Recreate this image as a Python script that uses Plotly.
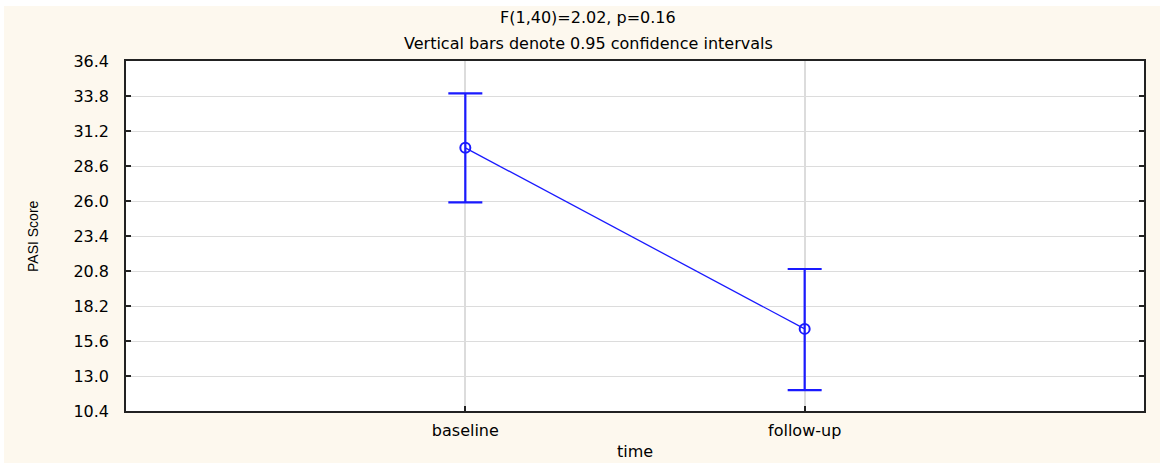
import plotly.graph_objects as go

# Data
categories = ["baseline", "follow-up"]
means = [29.95, 16.50]
ci_upper = [34.00, 20.95]
ci_lower = [25.90, 11.95]
y_ticks = [10.4, 13.0, 15.6, 18.2, 20.8, 23.4, 26.0, 28.6, 31.2, 33.8, 36.4]
title_lines = ["F(1,40)=2.02, p=0.16", "Vertical bars denote 0.95 confidence intervals"]

err_plus = [u - m for u, m in zip(ci_upper, means)]
err_minus = [m - l for m, l in zip(means, ci_lower)]

BLUE = "#1a1aff"
CREAM = "#fdf8ee"
FONT = "DejaVu Sans"
TXT = "#000000"

fig = go.Figure()
fig.add_trace(go.Scatter(
    x=list(range(len(categories))),
    y=means,
    mode="lines+markers",
    line=dict(color=BLUE, width=1.3),
    marker=dict(symbol="circle-open", size=10, color=BLUE, line=dict(width=2, color=BLUE)),
    error_y=dict(type="data", symmetric=False, array=err_plus, arrayminus=err_minus,
                 color=BLUE, thickness=2.2, width=17),
    showlegend=False,
    cliponaxis=False,
))

L, R, T, B = 126, 16, 61, 52
W, H = 1160, 463
pw, ph = W - L - R, H - T - B

def px_x(px):
    return (px - L) / pw

def px_y(py):
    return (H - B - py) / ph

txt = dict(family=FONT, size=16, color=TXT)

annotations = [
    dict(text=title_lines[0], x=px_x(588), y=px_y(17), xref="paper", yref="paper",
         showarrow=False, xanchor="center", yanchor="middle", font=txt),
    dict(text=title_lines[1], x=px_x(588), y=px_y(43), xref="paper", yref="paper",
         showarrow=False, xanchor="center", yanchor="middle", font=txt),
    dict(text="PASI Score", x=px_x(33), y=0.5, xref="paper", yref="paper",
         showarrow=False, xanchor="center", yanchor="middle", textangle=-90,
         font=dict(family="Liberation Sans", size=14, color=TXT)),
    dict(text="time", x=0.5, y=px_y(451), xref="paper", yref="paper",
         showarrow=False, xanchor="center", yanchor="middle", font=txt),
]

# thin white frame at the image edges (top and left)
shapes = [
    dict(type="rect", xref="paper", yref="paper", x0=px_x(0), x1=px_x(W), y0=px_y(6), y1=px_y(0),
         fillcolor="white", line=dict(width=0), layer="below"),
    dict(type="rect", xref="paper", yref="paper", x0=px_x(0), x1=px_x(4), y0=px_y(H), y1=px_y(0),
         fillcolor="white", line=dict(width=0), layer="below"),
]

fig.update_layout(
    width=W, height=H,
    margin=dict(l=L, r=R, t=T, b=B, pad=0),
    paper_bgcolor=CREAM,
    plot_bgcolor="white",
    annotations=annotations,
    shapes=shapes,
    xaxis=dict(
        range=[-1, 2],
        tickmode="array", tickvals=list(range(len(categories))), ticktext=categories,
        ticks="inside", ticklen=5, tickcolor="#222", tickwidth=1.5,
        showgrid=True, gridcolor="#dcdcdc", gridwidth=1.5,
        showline=True, linecolor="#222", linewidth=1.5, mirror=True,
        zeroline=False,
        tickfont=txt,
        ticklabelstandoff=4,
    ),
    yaxis=dict(
        range=[10.4, 36.4],
        tickmode="array", tickvals=y_ticks, ticktext=[f"{v:.1f}" for v in y_ticks],
        ticks="inside", ticklen=5, tickcolor="#222", tickwidth=1.5,
        showgrid=True, gridcolor="#dcdcdc", gridwidth=1.2,
        showline=True, linecolor="#222", linewidth=1.5, mirror="ticks",
        zeroline=False,
        tickfont=txt,
        ticklabelstandoff=12,
    ),
)

fig.write_html("out.html")
